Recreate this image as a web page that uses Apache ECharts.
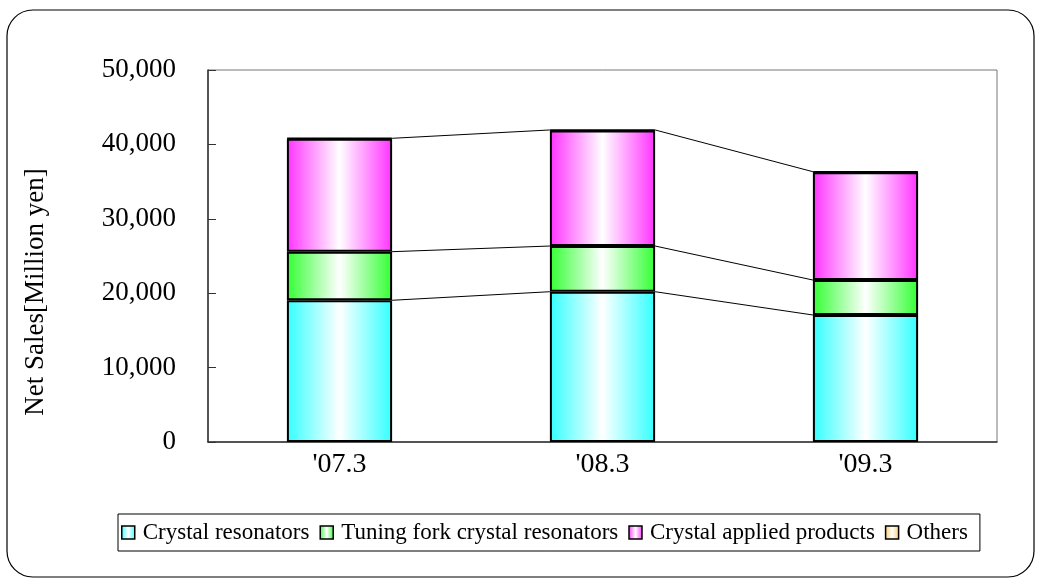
<!DOCTYPE html>
<html>
<head>
<meta charset="utf-8">
<script src="https://cdn.jsdelivr.net/npm/echarts@6/dist/echarts.min.js"></script>
<style>
html,body{margin:0;padding:0;background:#fff;}
#c{width:1041px;height:583px;}
</style>
</head>
<body>
<div id="c"></div>
<script>
var categories = ["'07.3", "'08.3", "'09.3"];
var crystalResonators = [19050, 20200, 17070];
var tuningFork = [6530, 6140, 4700];
var appliedProducts = [15180, 15540, 14500];
var others = [60, 60, 60];
var yTicks = [0, 10000, 20000, 30000, 40000, 50000];
var seriesNames = ['Crystal resonators', 'Tuning fork crystal resonators', 'Crystal applied products', 'Others'];
var yAxisTitle = 'Net Sales[Million yen]';

var FONT = "'Liberation Serif', 'Times New Roman', serif";

function grad(c) {
  return new echarts.graphic.LinearGradient(0, 0, 1, 0, [
    {offset: 0, color: c},
    {offset: 0.5, color: '#ffffff'},
    {offset: 1, color: c}
  ]);
}

var layers = [crystalResonators, tuningFork, appliedProducts, others];
var cumulative = [];
var run = [0, 0, 0];
layers.forEach(function (arr) {
  run = run.map(function (v, i) { return v + arr[i]; });
  cumulative.push(run.slice());
});
var connectorLevels = [cumulative[0], cumulative[1], cumulative[3]];
var connectorData = [];
connectorLevels.forEach(function (lvl) {
  for (var i = 0; i < categories.length - 1; i++) {
    connectorData.push([i, lvl[i], lvl[i + 1]]);
  }
});

var chart = echarts.init(document.getElementById('c'));
var colors = ['#33ffff', '#33ff33', '#ff33ff', '#ffcc66'];

function barSeries(name, data, color) {
  return {
    name: name, type: 'bar', stack: 'total', data: data, barWidth: '40%',
    itemStyle: {color: grad(color), borderColor: '#000', borderWidth: 2},
    emphasis: {disabled: true}
  };
}

chart.setOption({
  animation: false,
  textStyle: {fontFamily: FONT},
  graphic: [{
    type: 'rect',
    shape: {x: 7, y: 10, width: 1027, height: 567, r: 26},
    style: {fill: 'none', stroke: '#000', lineWidth: 1.2},
    silent: true
  }, {
    type: 'text', x: 36, y: 292, rotation: Math.PI / 2,
    style: {text: yAxisTitle, font: '27px ' + FONT, fill: '#000', align: 'center', verticalAlign: 'middle'},
    silent: true
  }],
  grid: {left: 208, top: 70, right: 44, bottom: 141, show: true, borderColor: '#777', borderWidth: 1},
  legend: {
    data: seriesNames,
    left: 118, top: 514,
    padding: [7, 12, 7, 3],
    itemGap: 10,
    itemWidth: 13, itemHeight: 13,
    icon: 'rect',
    borderColor: '#000', borderWidth: 1,
    textStyle: {fontFamily: FONT, fontSize: 23, color: '#000', padding: [0, 0, 0, 3]},
    itemStyle: {borderColor: '#000', borderWidth: 1.5}
  },
  xAxis: {
    type: 'category', data: categories,
    axisLine: {lineStyle: {color: '#333', width: 1.5}},
    axisTick: {inside: true, length: 6, lineStyle: {color: '#333'}},
    axisLabel: {fontFamily: FONT, fontSize: 28, color: '#000', margin: 9}
  },
  yAxis: {
    type: 'value', min: 0, max: 50000, interval: 10000,
    axisLine: {show: true, lineStyle: {color: '#333', width: 1.5}},
    axisTick: {show: true, inside: true, length: 8, lineStyle: {color: '#333'}},
    splitLine: {show: false},
    axisLabel: {
      fontFamily: FONT, fontSize: 27, color: '#000', margin: 32,
      formatter: function (v) { return yTicks.indexOf(v) >= 0 ? v.toLocaleString('en-US') : ''; }
    }
  },
  series: [
    barSeries(seriesNames[0], crystalResonators, colors[0]),
    barSeries(seriesNames[1], tuningFork, colors[1]),
    barSeries(seriesNames[2], appliedProducts, colors[2]),
    barSeries(seriesNames[3], others, colors[3]),
    {
      type: 'custom', name: 'connectors', data: connectorData, silent: true, z: 1,
      renderItem: function (params, api) {
        var i = api.value(0);
        var p1 = api.coord([i, api.value(1)]);
        var p2 = api.coord([i + 1, api.value(2)]);
        var half = api.size([1, 0])[0] * 0.2;
        return {
          type: 'line',
          shape: {x1: p1[0] + half, y1: p1[1], x2: p2[0] - half, y2: p2[1]},
          style: {stroke: '#000', lineWidth: 1}
        };
      }
    }
  ]
});
</script>
</body>
</html>
